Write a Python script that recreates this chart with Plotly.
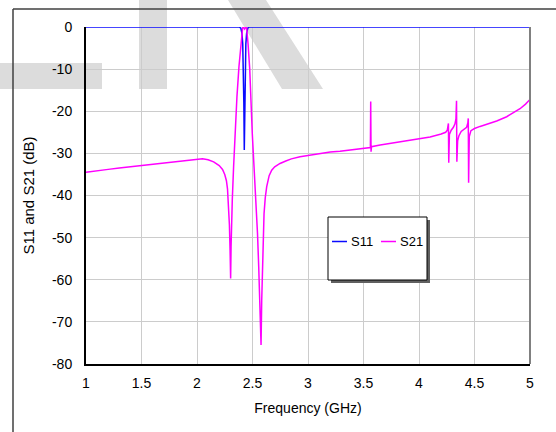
import plotly.graph_objects as go

# ---------------- data ----------------
s21_freq = [1.00, 1.10, 1.20, 1.30, 1.40, 1.50, 1.60, 1.70, 1.80, 1.90, 2.00, 2.05, 2.10, 2.15,
            2.20, 2.23, 2.25, 2.265, 2.275, 2.285, 2.292, 2.298, 2.303, 2.307, 2.312, 2.318,
            2.330, 2.342, 2.360, 2.378, 2.395, 2.411, 2.420, 2.429, 2.438, 2.447, 2.460,
            2.475, 2.498, 2.515, 2.532, 2.545, 2.556, 2.567, 2.577, 2.583, 2.589, 2.596,
            2.604, 2.615, 2.628, 2.650, 2.673, 2.700, 2.748, 2.800, 2.850, 2.928, 3.000,
            3.108, 3.200, 3.288, 3.400, 3.500, 3.553, 3.562, 3.565, 3.568, 3.572, 3.650,
            3.800, 3.900, 3.994, 4.100, 4.200, 4.240, 4.255, 4.262, 4.265, 4.268, 4.274,
            4.290, 4.310, 4.324, 4.333, 4.338, 4.341, 4.348, 4.360, 4.380, 4.400, 4.429,
            4.440, 4.444, 4.447, 4.453, 4.468, 4.500, 4.550, 4.640, 4.700, 4.790, 4.850,
            4.910, 4.960, 5.000]
s21_db = [-34.5, -34.1, -33.8, -33.5, -33.2, -32.9, -32.6, -32.2, -31.9, -31.6, -31.3, -31.3, -31.5, -32.0,
          -32.9, -33.8, -35.0, -36.5, -38.5, -42.5, -47.0, -53.0, -59.7, -52.0, -46.0, -41.0,
          -33.0, -25.3, -16.5, -9.4, -3.5, -0.2, -0.1, -0.5, -0.1, -0.2, -4.0,
          -10.0, -25.3, -33.0, -41.1, -49.0, -56.9, -66.0, -75.5, -65.0, -56.9, -49.0,
          -44.3, -40.5, -37.9, -35.3, -34.0, -33.2, -32.4, -31.8, -31.3, -30.8, -30.5,
          -30.0, -29.7, -29.5, -29.2, -28.9, -28.8, -28.6, -17.7, -29.6, -28.4, -28.0,
          -27.4, -27.0, -26.7, -26.1, -25.4, -25.0, -24.5, -23.8, -22.9, -32.2, -25.5,
          -24.5, -23.8, -23.0, -21.8, -17.5, -32.0, -27.0, -25.8, -24.8, -24.3, -23.8,
          -22.8, -21.7, -37.0, -26.0, -24.6, -24.1, -23.6, -22.9, -22.3, -21.3, -20.4,
          -19.4, -18.3, -17.2]

s11_freq = [1.00, 2.380, 2.395, 2.405, 2.412, 2.418, 2.422, 2.426, 2.430, 2.434, 2.440,
            2.447, 2.457, 2.470, 5.00]
s11_db = [0.0, 0.0, -0.3, -1.5, -4.0, -10.0, -18.0, -29.2, -18.0, -10.0, -4.0,
          -1.5, -0.3, 0.0, 0.0]

x_ticks = [1, 1.5, 2, 2.5, 3, 3.5, 4, 4.5, 5]
y_ticks = [0, -10, -20, -30, -40, -50, -60, -70, -80]

series_names = ["S11", "S21"]
series_colors = ["#0a0aff", "#ff00ff"]

# ---------------- layout helpers ----------------
W, H = 556, 432
L, R, T, B = 86, 530, 27, 364


def px(x):
    return (x - L) / (R - L)


def py(y):
    return (B - y) / (B - T)


FONT = "Liberation Sans, Arial, sans-serif"

fig = go.Figure()
fig.add_trace(go.Scatter(x=s11_freq, y=s11_db, mode="lines", name=series_names[0],
                         line=dict(color=series_colors[0], width=1.5)))
fig.add_trace(go.Scatter(x=s21_freq, y=s21_db, mode="lines", name=series_names[1],
                         line=dict(color=series_colors[1], width=1.5)))

shapes = []
wm = "#dcdcdc"
# watermark
shapes.append(dict(type="rect", xref="paper", yref="paper", x0=px(0), x1=px(102), y0=py(63), y1=py(89),
                   fillcolor=wm, line=dict(width=0), layer="below"))
shapes.append(dict(type="rect", xref="paper", yref="paper", x0=px(139), x1=px(167), y0=py(0), y1=py(89),
                   fillcolor=wm, line=dict(width=0), layer="below"))
shapes.append(dict(type="path", xref="paper", yref="paper",
                   path="M {},{} L {},{} L {},{} L {},{} Z".format(px(228), py(0), px(266), py(0),
                                                                   px(323), py(89), px(282), py(89)),
                   fillcolor=wm, line=dict(width=0), layer="below"))
# outer frame
shapes.append(dict(type="line", xref="paper", yref="paper", x0=px(13), x1=px(556), y0=py(9), y1=py(9),
                   line=dict(color="#404040", width=1.5)))
shapes.append(dict(type="line", xref="paper", yref="paper", x0=px(13), x1=px(13), y0=py(9), y1=py(432),
                   line=dict(color="#404040", width=1.5)))
# right border of plot
shapes.append(dict(type="line", xref="paper", yref="paper", x0=1, x1=1, y0=0, y1=1,
                   line=dict(color="#808080", width=2)))
# legend box with shadow
shapes.append(dict(type="rect", xref="paper", yref="paper", x0=px(331), x1=px(430), y0=py(220), y1=py(283),
                   fillcolor="#606060", line=dict(width=0), layer="above"))
shapes.append(dict(type="rect", xref="paper", yref="paper", x0=px(328), x1=px(427), y0=py(217), y1=py(280),
                   fillcolor="white", line=dict(color="black", width=1), layer="above"))

# legend entries (short horizontal line + label) inside the box
annotations = []
leg_line_x = [332, 381]
leg_text_x = [349, 398]
leg_y = 241.5
for name, color, lx, tx in zip(series_names, series_colors, leg_line_x, leg_text_x):
    shapes.append(dict(type="path", xref="paper", yref="paper",
                       path="M {},{} L {},{}".format(px(lx), py(leg_y), px(lx + 15), py(leg_y)),
                       line=dict(color=color, width=1.5), layer="above"))
    annotations.append(dict(xref="paper", yref="paper", x=px(tx), y=py(leg_y), text=name,
                            showarrow=False, xanchor="left", yanchor="middle",
                            font=dict(family=FONT, size=13, color="black")))

fig.update_layout(
    width=W, height=H,
    margin=dict(l=L, r=W - R, t=T, b=H - B, autoexpand=False),
    paper_bgcolor="white", plot_bgcolor="rgba(0,0,0,0)",
    shapes=shapes,
    annotations=annotations,
    showlegend=False,
    xaxis=dict(range=[1, 5], tickvals=x_ticks, ticktext=[str(v) for v in x_ticks],
               showgrid=True, gridcolor="#cccccc", gridwidth=1, zeroline=False,
               showline=True, linecolor="black", linewidth=2, ticks="",
               ticklabelstandoff=5, automargin=False,
               tickfont=dict(family=FONT, size=14, color="black"),
               title=dict(text="Frequency (GHz)", font=dict(family=FONT, size=14, color="black"),
                          standoff=13)),
    yaxis=dict(range=[-80, 0], tickvals=y_ticks, ticktext=[str(v) for v in y_ticks],
               showgrid=True, gridcolor="#cccccc", gridwidth=1, zeroline=False,
               showline=True, linecolor="black", linewidth=2, ticks="",
               ticklabelstandoff=9, automargin=False,
               tickfont=dict(family=FONT, size=14, color="black"),
               title=dict(text="S11 and S21 (dB)", font=dict(family=FONT, size=15, color="black"),
                          standoff=14)),
)

fig.write_html("out.html", config={"displayModeBar": False},
               post_script="document.body.style.margin='0';")
